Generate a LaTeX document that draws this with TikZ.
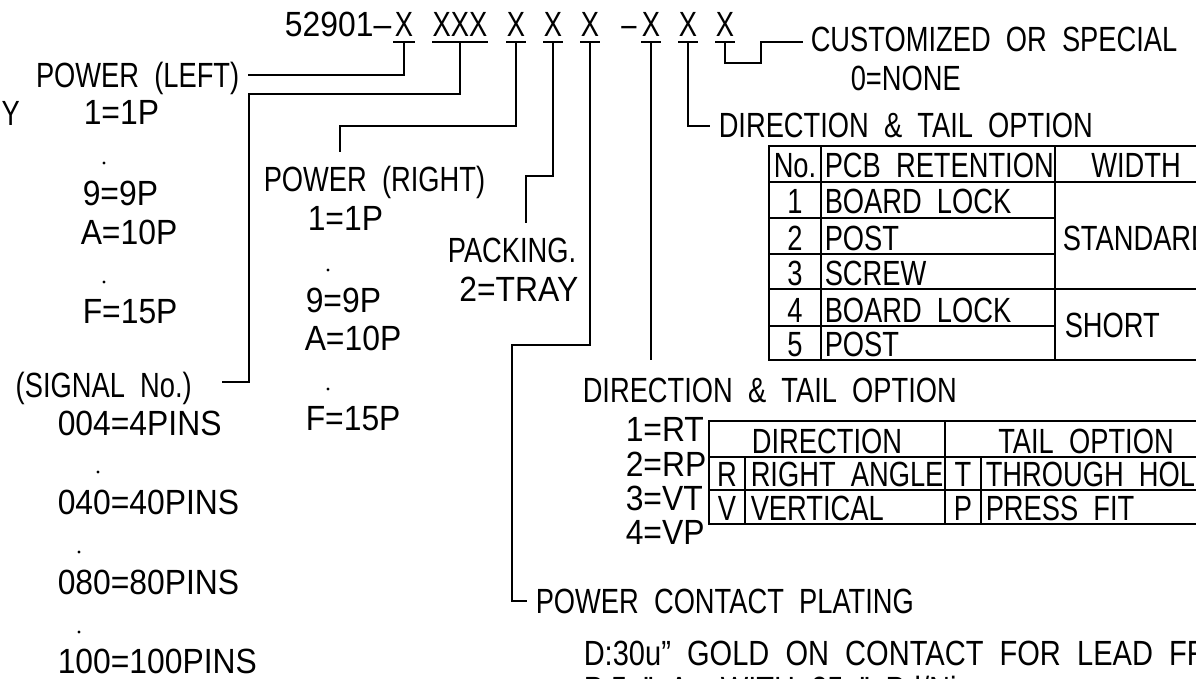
\documentclass[tikz,border=0pt]{standalone}
\usepackage{fontspec}
\setmainfont{Liberation Sans}[FakeStretch=0.78, WordSpace=2]
\newfontfamily\numfont{Liberation Sans}[FakeStretch=0.91, WordSpace=2]
\newfontfamily\midfont{Liberation Sans}[FakeStretch=0.83, WordSpace=2]
\usetikzlibrary{calc}
\begin{document}
\begin{tikzpicture}[x=1pt,y=-1pt, line width=1.5pt,
  txt/.style={inner sep=0pt, anchor=base west, font=\fontsize{35}{35}\selectfont},
  ctxt/.style={txt, anchor=base},
  num/.style={txt, font=\fontsize{35}{35}\selectfont\numfont},
  mid/.style={txt, font=\fontsize{35}{35}\selectfont\midfont},
  leader/.style={line width=1.5pt}]
\path[use as bounding box] (0,0) rectangle (1196,679);
\clip (0,0) rectangle (1196,679);

% ---- part number line
\node[num, anchor=base east] (pre) at (392,37) {52901–};
\node[ctxt] (c1) at (404,37) {X};
\node[ctxt] (c2) at (460,37) {XXX};
\node[ctxt] (c3) at (516,37) {X};
\node[ctxt] (c4) at (553,37) {X};
\node[ctxt] (c5) at (590,37) {X};
\node[ctxt] (dsh) at (629,37) {–};
\node[ctxt] (c6) at (651,37) {X};
\node[ctxt] (c7) at (688,37) {X};
\node[ctxt] (c8) at (725,37) {X};
\foreach \n/\w in {c1/11,c2/28,c3/10,c4/10,c5/10,c6/10,c7/10,c8/10}{
  \draw ($(\n.base)+(-\w,5)$) -- ($(\n.base)+(\w,5)$);
  \coordinate (u\n) at ($(\n.base)+(0,5)$);
}

% ---- leader end / corner coordinates
\coordinate (L1) at (248,75);
\coordinate (K2) at (249,94);
\coordinate (L2) at (222,382);
\coordinate (K3) at (340,126);
\coordinate (L3) at (340,152);
\coordinate (K4) at (526,176);
\coordinate (L4) at (526,223);
\coordinate (K5) at (512,345);
\coordinate (L5) at (527,601);
\coordinate (L6) at (651,360);
\coordinate (L7) at (710,126);
\coordinate (K8) at (761,63);
\coordinate (L8) at (803,42);

\draw[leader] (uc1) |- (L1);
\draw[leader] (uc2) |- (K2) |- (L2);
\draw[leader] (uc3) |- (K3) -- (L3);
\draw[leader] (uc4) |- (K4) -- (L4);
\draw[leader] (uc5) |- (K5) |- (L5);
\draw[leader] (uc6) -- (L6);
\draw[leader] (uc7) |- (L7);
\draw[leader] (uc8) |- (K8) |- (L8);

% ---- left column: power (left) / signal
\node[txt] (ytxt) at (1,126) {Y};
\node[txt, anchor=base east] (pl) at (240,88) {POWER (LEFT)};
\node[num] (pl1) at (83,125) {1=1P};
\fill (104,163) circle (1.6);
\node[num] (pl9) at (82,205) {9=9P};
\node[num] (plA) at (80,244) {A=10P};
\fill (104,282) circle (1.6);
\node[num] (plF) at (82,323) {F=15P};

\node[txt] (sig) at (15,397) {(SIGNAL No.)};
\node[num] (s4) at (57,435) {004=4PINS};
\fill (98,472) circle (1.6);
\node[num] (s40) at (57,514) {040=40PINS};
\fill (79,552) circle (1.6);
\node[num] (s80) at (57,594) {080=80PINS};
\fill (79,632) circle (1.6);
\node[num] (s100) at (57,673) {100=100PINS};

% ---- power (right)
\node[txt] (pr) at (263,192) {POWER (RIGHT)};
\node[num] (pr1) at (307,230) {1=1P};
\fill (328,270) circle (1.6);
\node[num] (pr9) at (305,312) {9=9P};
\node[num] (prA) at (304,350) {A=10P};
\fill (328,389) circle (1.6);
\node[num] (prF) at (305,430) {F=15P};

% ---- packing
\node[txt, anchor=base east] (pk) at (577,262) {PACKING.};
\node[num, anchor=base east] (pk2) at (579,301) {2=TRAY};

% ---- customized
\node[txt] (cu) at (810,52) {CUSTOMIZED OR SPECIAL};
\node[txt] (cu0) at (850,91) {0=NONE};

% ---- direction & tail option (upper table)
\node[txt] (dt1) at (718,138) {DIRECTION \& TAIL OPTION};
\draw (769,146) rectangle (1217,360);
\draw (821,146) -- (821,360);
\draw (1055,146) -- (1055,360);
\draw (769,182) -- (1217,182);
\draw (769,289) -- (1217,289);
\draw (769,218) -- (1055,218);
\draw (769,254) -- (1055,254);
\draw (769,326) -- (1055,326);
\node[ctxt] at (795,178) {No.};
\node[txt] at (824,178) {PCB RETENTION};
\node[ctxt] at (1136,178) {WIDTH};
\node[ctxt] at (795,214) {1};
\node[txt] at (824,214) {BOARD LOCK};
\node[ctxt] at (795,250) {2};
\node[txt] at (824,250) {POST};
\node[ctxt] at (795,285) {3};
\node[txt] at (824,285) {SCREW};
\node[ctxt] at (795,322) {4};
\node[txt] at (824,322) {BOARD LOCK};
\node[ctxt] at (795,356) {5};
\node[txt] at (824,356) {POST};
\node[txt] at (1062,250) {STANDARD};
\node[txt] at (1064,337) {SHORT};

% ---- direction & tail option (lower)
\node[txt] (dt2) at (582,402) {DIRECTION \& TAIL OPTION};
\node[num] at (625,441) {1=RT};
\node[num] at (625,476) {2=RP};
\node[num] at (625,510) {3=VT};
\node[num] at (625,544) {4=VP};
\draw (709,421) rectangle (1228,524);
\draw (945,421) -- (945,524);
\draw (709,457) -- (1228,457);
\draw (709,490) -- (1228,490);
\draw (745,457) -- (745,524);
\draw (981,457) -- (981,524);
\node[ctxt] at (827,453) {DIRECTION};
\node[ctxt] at (1086,453) {TAIL OPTION};
\node[ctxt] at (727,486) {R};
\node[txt] at (750,486) {RIGHT ANGLE};
\node[ctxt] at (963,486) {T};
\node[txt] at (985,486) {THROUGH HOLE};
\node[ctxt] at (727,520) {V};
\node[txt] at (750,520) {VERTICAL};
\node[ctxt] at (963,520) {P};
\node[txt] at (985,520) {PRESS FIT};

% ---- plating
\node[txt] (pcp) at (535,613) {POWER CONTACT PLATING};
\node[mid] (pd) at (583,665) {D:30u” GOLD ON CONTACT FOR LEAD FREE};
\node[mid] (pp) at (583,701) {P:5u” Au WITH 25u” Pd/Ni};
\end{tikzpicture}
\end{document}
